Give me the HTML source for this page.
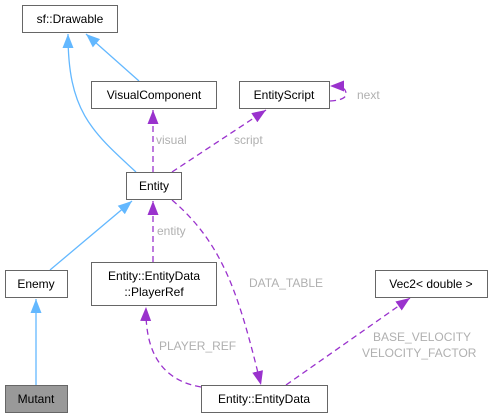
<!DOCTYPE html>
<html><head><meta charset="utf-8"><style>
body{margin:0;background:#fff;}
svg{display:block;font-family:"Liberation Sans",Helvetica,sans-serif;}
</style></head><body>
<svg width="495" height="417" viewBox="0 0 495 417" xmlns="http://www.w3.org/2000/svg">
<defs>
<marker id="b" markerWidth="15" markerHeight="12" refX="14" refY="6" orient="auto" markerUnits="userSpaceOnUse"><path d="M0,0.5 L14,6 L0,11.5 z" fill="#63b8ff"/></marker>
<marker id="p" markerWidth="15" markerHeight="12" refX="14" refY="6" orient="auto" markerUnits="userSpaceOnUse"><path d="M0,0.5 L14,6 L0,11.5 z" fill="#9a32cd"/></marker>
</defs>
<g fill="none" stroke-width="1.3">
<path d="M136,172 C90,130 68,110 68,34" stroke="#63b8ff" marker-end="url(#b)"/>
<path d="M139,81 L86,34" stroke="#63b8ff" marker-end="url(#b)"/>
<path d="M50,270 L132,201" stroke="#63b8ff" marker-end="url(#b)"/>
<path d="M36,385 L36,299" stroke="#63b8ff" marker-end="url(#b)"/>
<g stroke="#9a32cd" stroke-dasharray="6,4">
<path d="M153,172 L153,110" marker-end="url(#p)"/>
<path d="M172,172 L266,110" marker-end="url(#p)"/>
<path d="M330,101 C345,100 348,96 345,90 C342,86 338,86 330,86" marker-end="url(#p)"/>
<path d="M153,262 L153,201" marker-end="url(#p)"/>
<path d="M172,200 C225,245 240,300 261,385" marker-end="url(#p)"/>
<path d="M201,387 C160,380 145,350 146,307" marker-end="url(#p)"/>
<path d="M286,385 L410,298" marker-end="url(#p)"/>
</g>
</g>
<g stroke="#666" stroke-width="1" fill="#fff">
<rect x="22.5" y="5.5" width="95" height="27"/>
<rect x="91.5" y="81.5" width="125" height="27"/>
<rect x="239.5" y="81.5" width="90" height="27"/>
<rect x="126.5" y="172.5" width="55" height="27"/>
<rect x="5.5" y="270.5" width="62" height="27"/>
<rect x="91.5" y="262.5" width="125" height="43"/>
<rect x="375.5" y="270.5" width="112" height="27"/>
<rect x="5.5" y="385.5" width="62" height="27" fill="#999"/>
<rect x="201.5" y="385.5" width="126" height="27"/>
</g>
<g font-size="12" fill="#000" text-anchor="middle">
<text x="70" y="23">sf::Drawable</text>
<text x="154" y="99">VisualComponent</text>
<text x="284" y="99">EntityScript</text>
<text x="154" y="190">Entity</text>
<text x="36" y="288">Enemy</text>
<text x="154" y="280">Entity::EntityData</text>
<text x="154" y="296">::PlayerRef</text>
<text x="431" y="288">Vec2&lt; double &gt;</text>
<text x="36" y="403">Mutant</text>
<text x="264" y="403">Entity::EntityData</text>
</g>
<g font-size="12" fill="#b0b0b0">
<text x="156" y="144">visual</text>
<text x="234" y="144">script</text>
<text x="357" y="99">next</text>
<text x="157" y="235">entity</text>
<text x="249" y="287">DATA_TABLE</text>
<text x="159" y="350">PLAYER_REF</text>
<text x="373" y="341">BASE_VELOCITY</text>
<text x="362" y="357">VELOCITY_FACTOR</text>
</g>
</svg>
</body></html>
